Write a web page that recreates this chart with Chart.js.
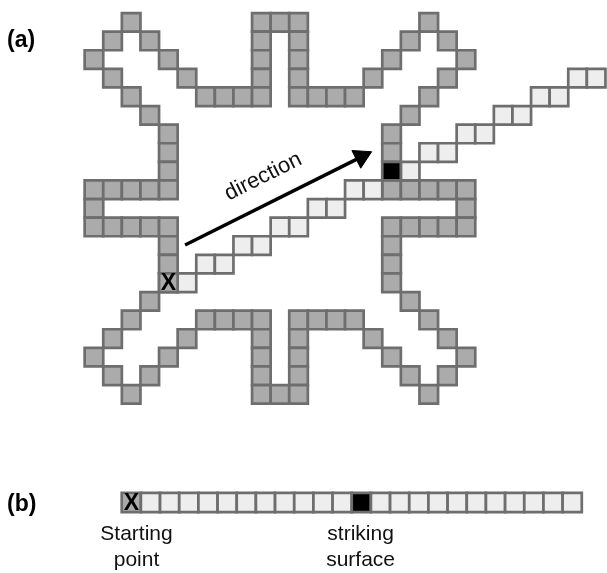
<!DOCTYPE html>
<html><head><meta charset="utf-8">
<script src="https://cdn.jsdelivr.net/npm/chart.js@4.4.0/dist/chart.umd.min.js"></script>
<style>html,body{margin:0;padding:0;background:#fff}#wrap{width:607px;height:573px;position:relative}</style>
</head><body><div id="wrap"><canvas id="c"></canvas></div>
<script>
// Panel (a): wall cells [col,row]
const grayCells = [
  [2,0],[9,0],[10,0],[11,0],[18,0],
  [1,1],[3,1],[9,1],[11,1],[17,1],[19,1],
  [0,2],[4,2],[9,2],[11,2],[16,2],[20,2],
  [1,3],[5,3],[9,3],[11,3],[15,3],[19,3],
  [2,4],[6,4],[7,4],[8,4],[9,4],[11,4],[12,4],[13,4],[14,4],[18,4],
  [3,5],[17,5],
  [4,6],[16,6],
  [4,7],[16,7],
  [4,8],
  [0,9],[1,9],[2,9],[3,9],[4,9],[16,9],[17,9],[18,9],[19,9],[20,9],
  [0,10],[20,10],
  [0,11],[1,11],[2,11],[3,11],[4,11],[16,11],[17,11],[18,11],[19,11],[20,11],
  [4,12],[16,12],
  [4,13],[16,13],
  [4,14],[16,14],
  [3,15],[17,15],
  [2,16],[6,16],[7,16],[8,16],[9,16],[11,16],[12,16],[13,16],[14,16],[18,16],
  [1,17],[5,17],[9,17],[11,17],[15,17],[19,17],
  [0,18],[4,18],[9,18],[11,18],[16,18],[20,18],
  [1,19],[3,19],[9,19],[11,19],[17,19],[19,19],
  [2,20],[9,20],[10,20],[11,20],[18,20]
];
// Panel (a): ray path cells
const pathCells = [
  [5,14],[6,13],[7,13],[8,12],[9,12],[10,11],[11,11],[12,10],[13,10],[14,9],[15,9],
  [17,8],[18,7],[19,7],[20,6],[21,6],[22,5],[23,5],[24,4],[25,4],[26,3],[27,3]
];
const hitCells = [[16,8]];
const startCells = [[4,14]];
const arrowPoints = [[4.9,11.97],[14.38,7.23]];
const arrowAngle = 63.43;
const directionLabel = {text:'direction', x:9.1, y:8.3, angle:-26.57};
// Panel (b): unrolled strip
const stripKinds = ['start','path','path','path','path','path','path','path','path','path','path','path',
  'hit','path','path','path','path','path','path','path','path','path','path','path'];
const stripLabels = [
  {i:0.27, lines:['Starting','point']},
  {i:11.96, lines:['striking','surface']}
];
const panelLabels = [{text:'(a)', y:47},{text:'(b)', y:511}];

const GRAY='#ababab', EDGE='#6e6e6e', LIGHT='#eeeeee', BLACK='#000000';
const kindColor = {start:GRAY, path:LIGHT, hit:BLACK};
const FONT = "'Liberation Sans', Arial, sans-serif";

const toPts = a => a.map(p => ({x:p[0], y:p[1]}));
const cellStyle = (color) => ({
  pointStyle:'rect', pointRadius:13.15, pointHoverRadius:13.15,
  backgroundColor:color, borderColor:EDGE, borderWidth:2.7, pointHoverBorderWidth:2.7, clip:false
});

const textPlugin = {
  id:'texts',
  afterDatasetsDraw(chart){
    const ctx = chart.ctx, sx = chart.scales.x, sy = chart.scales.y, bx = chart.scales.xb, by = chart.scales.yb;
    ctx.save();
    ctx.fillStyle = '#000';
    ctx.textAlign = 'center'; ctx.textBaseline = 'middle';
    ctx.font = 'bold 23px ' + FONT;
    startCells.forEach(p => ctx.fillText('X', sx.getPixelForValue(p[0]), sy.getPixelForValue(p[1]) + 1));
    stripKinds.forEach((k,i) => { if (k === 'start') ctx.fillText('X', bx.getPixelForValue(i), by.getPixelForValue(0) + 1); });
    // direction
    ctx.save();
    ctx.translate(sx.getPixelForValue(directionLabel.x), sy.getPixelForValue(directionLabel.y));
    ctx.rotate(directionLabel.angle * Math.PI / 180);
    ctx.font = '22px ' + FONT;
    ctx.fillStyle = '#111';
    ctx.fillText(directionLabel.text, 0, 0);
    ctx.restore();
    // strip labels
    ctx.font = '21px ' + FONT;
    ctx.fillStyle = '#111';
    ctx.textBaseline = 'alphabetic';
    const y0 = by.getPixelForValue(0);
    stripLabels.forEach(l => {
      const x = bx.getPixelForValue(l.i);
      l.lines.forEach((t, j) => ctx.fillText(t, x, y0 + 38 + j * 26));
    });
    // panel labels
    ctx.font = 'bold 23px ' + FONT;
    ctx.textAlign = 'left';
    ctx.fillStyle = '#000';
    panelLabels.forEach(l => ctx.fillText(l.text, 7, l.y));
    ctx.restore();
  }
};

new Chart(document.getElementById('c'), {
  type:'scatter',
  data:{ datasets:[
    { type:'line', data:toPts(arrowPoints), borderColor:BLACK, borderWidth:3.5, showLine:true,
      pointRadius:[0,11.4], pointStyle:'triangle', pointRotation:arrowAngle,
      pointBackgroundColor:BLACK, pointBorderColor:BLACK, pointBorderWidth:1, clip:false },
    Object.assign({ data:toPts(hitCells) }, cellStyle(BLACK)),
    Object.assign({ data:toPts(startCells) }, cellStyle(GRAY)),
    Object.assign({ data:toPts(pathCells) }, cellStyle(LIGHT)),
    Object.assign({ data:toPts(grayCells) }, cellStyle(GRAY)),
    Object.assign({ data:stripKinds.map((k,i) => ({x:i, y:0})), xAxisID:'xb', yAxisID:'yb' },
      cellStyle(stripKinds.map(k => kindColor[k])), {pointRadius:13.55})
  ]},
  options:{
    responsive:true, maintainAspectRatio:false, animation:false, events:[],
    layout:{padding:0, autoPadding:false},
    plugins:{legend:{display:false}, tooltip:{enabled:false}},
    scales:{
      x:{type:'linear', min:-5.051, max:27.583, display:false},
      y:{type:'linear', min:-1.2016, max:29.605, reverse:true, display:false},
      xb:{type:'linear', min:-6.849, max:24.815, display:false},
      yb:{type:'linear', min:-3.68, max:26.21, display:false}
    }
  },
  plugins:[textPlugin]
});
</script>
</body></html>
